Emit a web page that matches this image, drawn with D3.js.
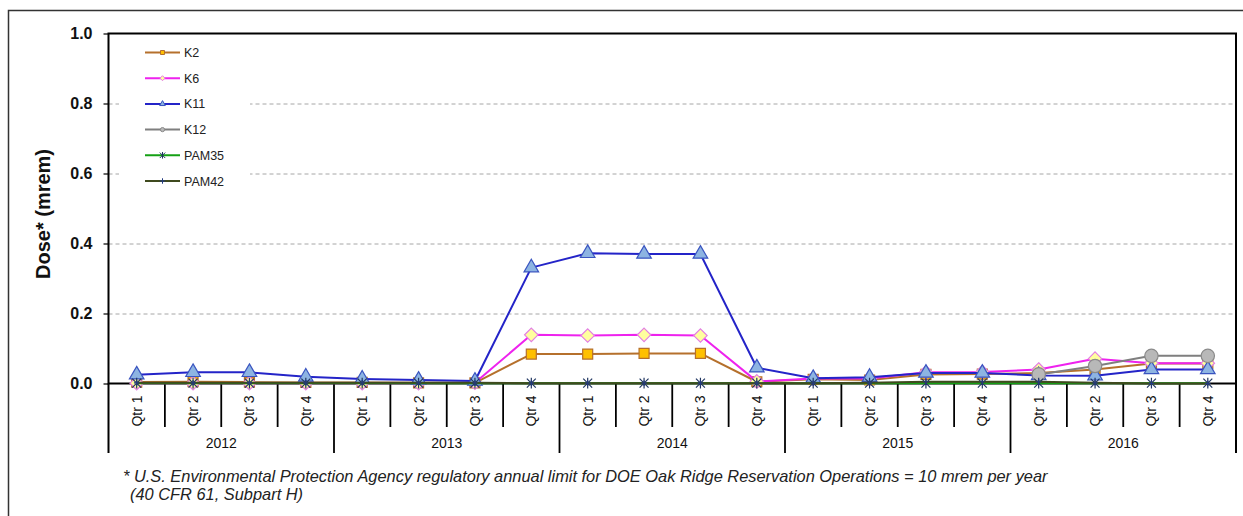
<!DOCTYPE html>
<html><head><meta charset="utf-8">
<script src="https://cdn.jsdelivr.net/npm/d3@7"></script>
<style>
body{margin:0;background:#fff}
svg{display:block}
text{font-family:"Liberation Sans",Arial,Helvetica,sans-serif}
</style>
</head><body>
<svg id="chart" width="1243" height="516"></svg>
<script>
// Quarterly dose at ambient air stations, 2012-2016
const years = ["2012", "2013", "2014", "2015", "2016"];
const quarters = ["Qtr 1", "Qtr 2", "Qtr 3", "Qtr 4"];
const yTicks = [0, 0.2, 0.4, 0.6, 0.8, 1.0];
const gridTicks = [0.2, 0.4, 0.6, 0.8];

const k2    = [0.004, 0.005, 0.004, 0.003, 0.003, 0.002, 0.002, 0.084, 0.084, 0.086, 0.086, 0.005, 0.012, 0.010, 0.026, 0.027, 0.030, 0.040, 0.057, 0.057];
const k6    = [0.001, 0.001, 0.001, 0.001, 0.001, 0.001, 0.002, 0.139, 0.137, 0.139, 0.137, 0.006, 0.014, 0.014, 0.032, 0.033, 0.040, 0.071, 0.058, 0.058];
const k11   = [0.025, 0.032, 0.032, 0.019, 0.013, 0.010, 0.007, 0.331, 0.372, 0.370, 0.370, 0.045, 0.015, 0.018, 0.030, 0.030, 0.023, 0.022, 0.040, 0.040];
const k12   = [null, null, null, null, null, null, null, null, null, null, null, null, null, null, null, null, 0.026, 0.050, 0.079, 0.079];
const pam35 = [0.001, 0.001, 0.001, 0.001, 0.001, 0.001, 0.001, 0.001, 0.001, 0.001, 0.001, 0.001, 0.001, 0.001, 0.001, 0.001, 0.001, 0.001, 0.001, 0.001];
const pam42 = [0.002, 0.002, 0.002, 0.002, 0.002, 0.002, 0.002, 0.001, 0.001, 0.001, 0.001, 0.001, 0.001, 0.002, 0.005, 0.005, 0.005, 0.002, 0.000, 0.000];

const footnote1 = "* U.S. Environmental Protection Agency regulatory annual limit for DOE Oak Ridge Reservation Operations = 10 mrem per year";
const footnote2 = "(40 CFR 61, Subpart H)";

// category list: one entry per quarter
const categories = [];
years.forEach(y => quarters.forEach(q => categories.push({year: y, qtr: q, key: y + " " + q})));

// custom marker shapes
const squareDiamond = {
  draw(ctx, size) {
    const r = Math.sqrt(size) / 2;
    ctx.moveTo(0, -r); ctx.lineTo(r, 0); ctx.lineTo(0, r); ctx.lineTo(-r, 0); ctx.closePath();
  }
};
const asterisk = {
  draw(ctx, size) {
    const r = Math.sqrt(size) / 2;
    ctx.moveTo(-r, -r); ctx.lineTo(r, r);
    ctx.moveTo(-r, r); ctx.lineTo(r, -r);
    ctx.moveTo(0, -r * 1.2); ctx.lineTo(0, r * 1.2);
  }
};
const plusMark = {
  draw(ctx, size) {
    const r = Math.sqrt(size) / 2;
    ctx.moveTo(-r, 0); ctx.lineTo(r, 0);
    ctx.moveTo(0, -r); ctx.lineTo(0, r);
  }
};

const series = [
  {name: "K2",    values: k2,    line: "#b5702c", lw: 2,   sym: d3.symbolSquare,   size: 100, lsize: 16, fill: "#ffc000", stroke: "#b5702c"},
  {name: "K6",    values: k6,    line: "#ee22ee", lw: 2,   sym: squareDiamond,     size: 180, lsize: 25, fill: "#ffff9e", stroke: "#e37ee3"},
  {name: "K11",   values: k11,   line: "#2424c8", lw: 2,   sym: d3.symbolTriangle, size: 92,  lsize: 14, fill: "#8db4e2", stroke: "#3a55c0"},
  {name: "K12",   values: k12,   line: "#7f7f7f", lw: 2,   sym: d3.symbolCircle,   size: 140, lsize: 14, fill: "#b8b8b8", stroke: "#8a8a8a"},
  {name: "PAM35", values: pam35, line: "#14a014", lw: 2,   sym: asterisk,          size: 80,  lsize: 30, fill: "none",    stroke: "#1f3560"},
  {name: "PAM42", values: pam42, line: "#3f4a1e", lw: 2,   sym: plusMark,          size: 30,  lsize: 30, fill: "none",    stroke: "#233a80"}
];

const svg = d3.select("#chart");
const plot = {left: 108.5, right: 1236, top: 33.5, bottom: 383.5};

const x = d3.scaleBand().domain(categories.map(c => c.key)).range([plot.left, plot.right]).padding(0);
const y = d3.scaleLinear().domain([0, 1]).range([plot.bottom, plot.top]);

// outer frame
svg.append("path")
  .attr("d", "M8.5,516 V10.5 H1243")
  .attr("fill", "none").attr("stroke", "#333").attr("stroke-width", 1.5);

// dashed gridlines
svg.append("g")
  .attr("transform", `translate(${plot.left},0)`)
  .call(d3.axisLeft(y).tickValues(gridTicks).tickSize(-(plot.right - plot.left)).tickFormat(""))
  .call(g => g.select(".domain").remove())
  .call(g => g.selectAll("line").attr("stroke", "#a6a6a6").attr("stroke-dasharray", "4,3").attr("stroke-width", 1));

// white legend panel over the grid
const legendBox = {x: 119, y: 38, w: 131, h: 157};
svg.append("rect")
  .attr("x", legendBox.x).attr("y", legendBox.y)
  .attr("width", legendBox.w).attr("height", legendBox.h)
  .attr("fill", "#fff");

// y axis
const yAxis = svg.append("g")
  .attr("transform", `translate(${plot.left},0)`)
  .call(d3.axisLeft(y).tickValues(yTicks).tickSize(5).tickPadding(11).tickFormat(d3.format(".1f")));
yAxis.select(".domain").remove();
yAxis.selectAll("line").attr("stroke", "#000").attr("stroke-width", 1.2);
yAxis.selectAll("text")
  .attr("font-size", 16).attr("font-weight", "bold").attr("fill", "#111")
  .attr("font-family", "'Liberation Sans',Arial,sans-serif");

svg.append("text")
  .attr("transform", `translate(50,214) rotate(-90)`)
  .attr("text-anchor", "middle")
  .attr("font-size", 20).attr("font-weight", "bold").attr("fill", "#111")
  .text("Dose* (mrem)");

// plot border
svg.append("rect")
  .attr("x", plot.left).attr("y", plot.top)
  .attr("width", plot.right - plot.left).attr("height", plot.bottom - plot.top)
  .attr("fill", "none").attr("stroke", "#000").attr("stroke-width", 2);

// x axis: quarter separators, year separators, labels
const xg = svg.append("g");
categories.forEach((c, i) => {
  const x0 = x(c.key);
  if (i > 0) {
    const isYear = c.qtr === quarters[0];
    xg.append("line")
      .attr("x1", x0).attr("x2", x0)
      .attr("y1", plot.bottom).attr("y2", isYear ? 453 : 427)
      .attr("stroke", "#000").attr("stroke-width", 1.8);
  }
});
[plot.left, plot.right].forEach(xx => {
  xg.append("line").attr("x1", xx).attr("x2", xx).attr("y1", plot.bottom).attr("y2", 453)
    .attr("stroke", "#000").attr("stroke-width", 2);
});
xg.selectAll("text.qtr").data(categories).join("text")
  .attr("class", "qtr")
  .attr("transform", d => `translate(${x(d.key) + x.bandwidth() / 2 + 5},411) rotate(-90)`)
  .attr("text-anchor", "middle")
  .attr("font-size", 14).attr("fill", "#111")
  .text(d => d.qtr);
xg.selectAll("text.year").data(years).join("text")
  .attr("class", "year")
  .attr("x", d => {
    const first = x(d + " " + quarters[0]);
    const last = x(d + " " + quarters[3]) + x.bandwidth();
    return (first + last) / 2;
  })
  .attr("y", 448)
  .attr("text-anchor", "middle")
  .attr("font-size", 14).attr("fill", "#111")
  .text(d => d);

// series lines and markers
const cx = d => x(d.key) + x.bandwidth() / 2;
series.forEach(s => {
  const pts = categories.map((c, i) => ({key: c.key, v: s.values[i]}));
  const line = d3.line().defined(d => d.v !== null).x(cx).y(d => y(d.v));
  const g = svg.append("g");
  g.append("path").datum(pts)
    .attr("d", line)
    .attr("fill", "none").attr("stroke", s.line).attr("stroke-width", s.lw)
    .attr("stroke-linejoin", "round");
  const sym = d3.symbol().type(s.sym).size(s.size);
  g.selectAll("path.mk").data(pts.filter(d => d.v !== null)).join("path")
    .attr("class", "mk")
    .attr("transform", d => `translate(${cx(d)},${y(d.v)})`)
    .attr("d", sym)
    .attr("fill", s.fill).attr("stroke", s.stroke).attr("stroke-width", 1.2);
});

// legend
const lg = svg.append("g");
series.forEach((s, i) => {
  const ly = 52.5 + i * 25.7;
  lg.append("line").attr("x1", 145).attr("x2", 180).attr("y1", ly).attr("y2", ly)
    .attr("stroke", s.line).attr("stroke-width", 2);
  lg.append("path")
    .attr("transform", `translate(162.5,${ly})`)
    .attr("d", d3.symbol().type(s.sym).size(s.lsize))
    .attr("fill", s.fill).attr("stroke", s.stroke).attr("stroke-width", 1);
  lg.append("text").attr("x", 184).attr("y", ly + 4.5)
    .attr("font-size", 12.5).attr("fill", "#222")
    .text(s.name);
});

// footnote
svg.append("text").attr("x", 123).attr("y", 482)
  .attr("font-size", 16.4).attr("font-style", "italic").attr("fill", "#222")
  .text(footnote1);
svg.append("text").attr("x", 130).attr("y", 500)
  .attr("font-size", 16.4).attr("font-style", "italic").attr("fill", "#222")
  .text(footnote2);
</script>
</body></html>
